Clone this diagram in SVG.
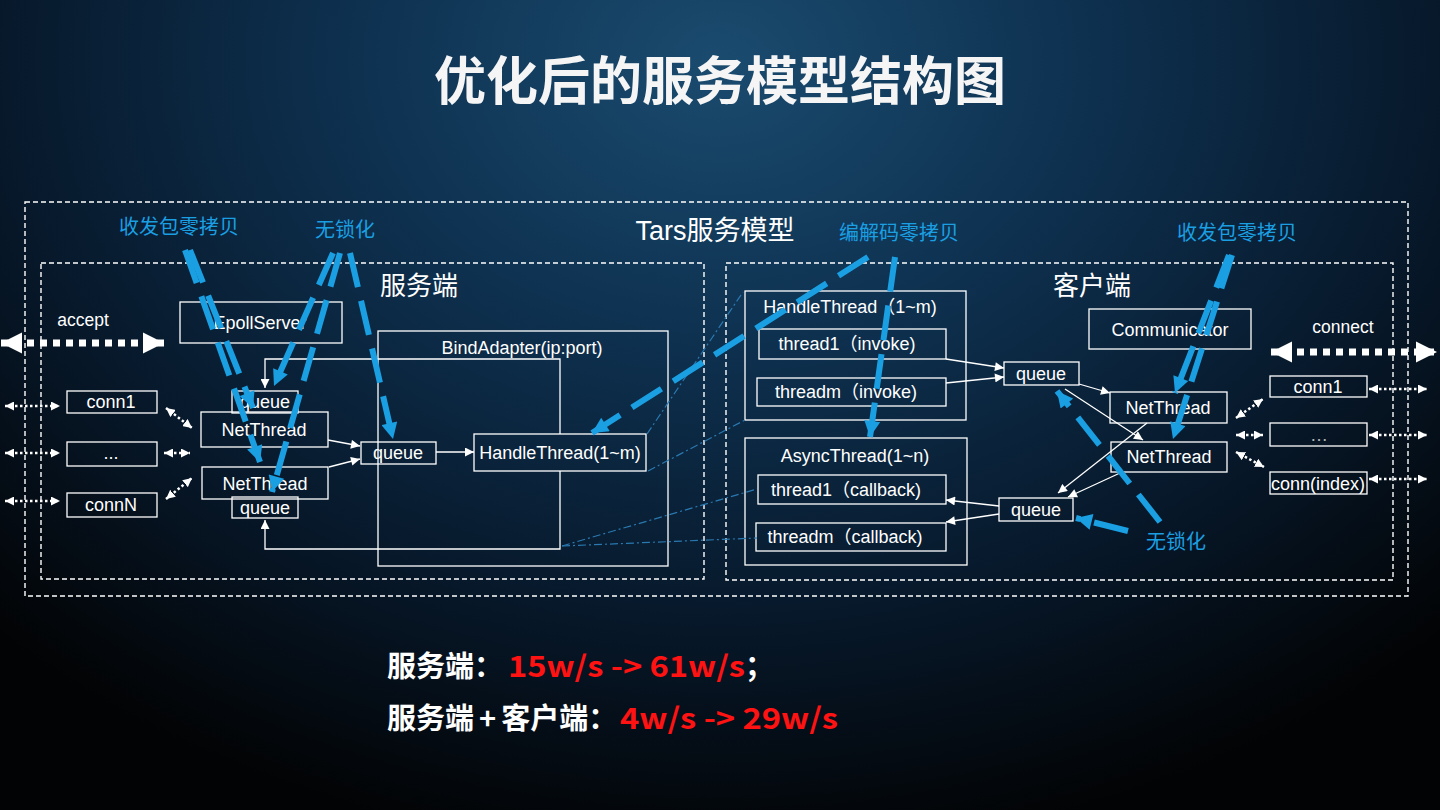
<svg xmlns="http://www.w3.org/2000/svg" width="1440" height="810" viewBox="0 0 1440 810">
<defs>
<radialGradient id="bg" gradientUnits="userSpaceOnUse" cx="720" cy="60" r="800" gradientTransform="translate(720 60) scale(1.3 1) translate(-720 -60)">
<stop offset="0" stop-color="#1a4b6f"/>
<stop offset="0.35" stop-color="#0e3150"/>
<stop offset="0.7" stop-color="#07182a"/>
<stop offset="1" stop-color="#020304"/>
</radialGradient>
<marker id="wa" markerUnits="userSpaceOnUse" viewBox="0 0 10 10" refX="10" refY="5" markerWidth="10" markerHeight="9" orient="auto"><path d="M0,0 L10,5 L0,10 z" fill="#fff"/></marker>
<marker id="da" markerUnits="userSpaceOnUse" viewBox="0 0 10 10" refX="10" refY="5" markerWidth="9" markerHeight="9" orient="auto-start-reverse"><path d="M0,0 L10,5 L0,10 z" fill="#fff"/></marker>
<marker id="ba" markerUnits="userSpaceOnUse" viewBox="0 0 10 10" refX="10" refY="5" markerWidth="21" markerHeight="22" orient="auto-start-reverse"><path d="M0,0 L10,5 L0,10 z" fill="#fff"/></marker>
<marker id="la" markerUnits="userSpaceOnUse" viewBox="0 0 10 10" refX="10" refY="5" markerWidth="17" markerHeight="16" orient="auto"><path d="M0,0 L10,5 L0,10 z" fill="#1a9fe2"/></marker>
<style>
.lbl{font-family:"Liberation Sans","Noto Sans CJK SC",sans-serif;font-size:18px;fill:#fff;text-anchor:middle}
.sm{font-size:17.5px}
.box{fill:none;stroke:#fff;stroke-width:1.3}
.dash{fill:none;stroke:#fff;stroke-width:1.4;stroke-dasharray:5 3}
.hd{font-family:"Liberation Sans","Noto Sans CJK SC",sans-serif;fill:#fff;text-anchor:middle}
.note{font-family:"Noto Sans CJK SC",sans-serif;font-size:20px;fill:#1a9fe2;text-anchor:middle}
.wl{fill:none;stroke:#fff;stroke-width:1.3;marker-end:url(#wa)}
.dl{fill:none;stroke:#fff;stroke-width:2.5;stroke-dasharray:2.5 2.5;marker-start:url(#da);marker-end:url(#da)}
.bl{fill:none;stroke:#fff;stroke-width:7;stroke-dasharray:7 6;marker-start:url(#ba);marker-end:url(#ba)}
.blue{fill:none;stroke:#1a9fe2;stroke-width:6;stroke-dasharray:35 14;marker-end:url(#la)}
.dd{fill:none;stroke:#2a78b0;stroke-width:1.2;stroke-dasharray:8 3 2 3}
.big{font-family:"Noto Sans CJK SC",sans-serif;font-weight:700}
.res{font-family:"Noto Sans CJK SC",sans-serif;font-weight:700;font-size:29px;fill:#fff}
.red{fill:#ff1212}
</style>
</defs>
<rect width="1440" height="810" fill="url(#bg)"/>

<text x="720" y="100" class="big" font-size="52" fill="#f5f5f5" text-anchor="middle">优化后的服务模型结构图</text>

<g id="frame">
<rect x="25" y="202" width="1383" height="394" class="dash"/>
<text x="715" y="240" class="hd" font-size="27">Tars服务模型</text>
</g>

<g id="server">
<rect x="41" y="263" width="663" height="316" class="dash"/>
<text x="419" y="295" class="hd" font-size="26">服务端</text>
</g>
<g id="client">
<rect x="726" y="263" width="667" height="317" class="dash"/>
<text x="1092" y="295" class="hd" font-size="26">客户端</text>
</g>

<g id="bindadapter">
<rect x="378" y="331" width="290" height="235" class="box"/>
<text x="522" y="354" class="lbl">BindAdapter(ip:port)</text>
</g>
<g id="epollserver"><rect x="180" y="302" width="162" height="41" class="box"/><text x="260" y="329" class="lbl">EpollServer</text></g>
<g id="accept"><text x="83" y="326" class="lbl sm">accept</text></g>
<g id="conn1-l"><rect x="67" y="391" width="90" height="22" class="box"/><text x="111" y="408" class="lbl">conn1</text></g>
<g id="dots-l"><rect x="67" y="442" width="90" height="24" class="box"/><text x="111" y="459" class="lbl">...</text></g>
<g id="connN"><rect x="67" y="493" width="90" height="24" class="box"/><text x="111" y="511" class="lbl">connN</text></g>
<g id="queue-top"><rect x="232" y="391" width="66" height="22" class="box"/><text x="265" y="408" class="lbl">queue</text></g>
<g id="netthread-s1"><rect x="201" y="412" width="127" height="35" class="box"/><text x="264" y="436" class="lbl">NetThread</text></g>
<g id="netthread-s2"><rect x="202" y="467" width="126" height="32" class="box"/><text x="265" y="490" class="lbl">NetThread</text></g>
<g id="queue-bottom"><rect x="232" y="497" width="66" height="21" class="box"/><text x="265" y="514" class="lbl">queue</text></g>
<g id="queue-mid"><rect x="361" y="442" width="75" height="22" class="box"/><text x="398" y="459" class="lbl">queue</text></g>
<g id="handlethread-s"><rect x="474" y="434" width="172" height="37" class="box"/><text x="560" y="459" class="lbl">HandleThread(1~m)</text></g>

<g id="handlethread-c">
<rect x="745" y="291" width="221" height="129" class="box"/>
<text x="850" y="313" class="lbl">HandleThread（1~m)</text>
</g>
<g id="thread1-invoke"><rect x="759" y="329" width="187" height="30" class="box"/><text x="847" y="350" class="lbl">thread1（invoke)</text></g>
<g id="threadm-invoke"><rect x="757" y="378" width="189" height="28" class="box"/><text x="846" y="398" class="lbl">threadm（invoke)</text></g>
<g id="asyncthread">
<rect x="745" y="438" width="222" height="127" class="box"/>
<text x="855" y="462" class="lbl">AsyncThread(1~n)</text>
</g>
<g id="thread1-callback"><rect x="758" y="475" width="188" height="29" class="box"/><text x="846" y="496" class="lbl">thread1（callback)</text></g>
<g id="threadm-callback"><rect x="756" y="523" width="190" height="28" class="box"/><text x="845" y="543" class="lbl">threadm（callback)</text></g>
<g id="queue-c1"><rect x="1004" y="362" width="75" height="23" class="box"/><text x="1041" y="380" class="lbl">queue</text></g>
<g id="queue-c2"><rect x="999" y="498" width="74" height="23" class="box"/><text x="1036" y="516" class="lbl">queue</text></g>
<g id="communicator"><rect x="1089" y="309" width="162" height="40" class="box"/><text x="1170" y="336" class="lbl">Communicator</text></g>
<g id="netthread-c1"><rect x="1110" y="392" width="117" height="31" class="box"/><text x="1168" y="414" class="lbl">NetThread</text></g>
<g id="netthread-c2"><rect x="1111" y="442" width="116" height="30" class="box"/><text x="1169" y="463" class="lbl">NetThread</text></g>
<g id="connect"><text x="1343" y="333" class="lbl sm">connect</text></g>
<g id="conn1-r"><rect x="1270" y="376" width="97" height="21" class="box"/><text x="1318" y="393" class="lbl">conn1</text></g>
<g id="dots-r"><rect x="1270" y="423" width="97" height="23" class="box"/><text x="1319" y="441" class="lbl" fill-opacity="0.7">…</text></g>
<g id="conn-index"><rect x="1270" y="472" width="97" height="22" class="box"/><text x="1318" y="490" class="lbl">conn(index)</text></g>

<g id="connectors">
<path class="bl" d="M1,343 L164,343"/>
<path class="bl" d="M1271,352 L1437,352"/>
<path class="dl" d="M5,406 L60,406"/>
<path class="dl" d="M5,453 L60,453"/>
<path class="dl" d="M5,501 L60,501"/>
<path class="dl" d="M166,408 L192,428"/>
<path class="dl" d="M164,453 L190,453"/>
<path class="dl" d="M166,499 L192,478"/>
<path class="dl" d="M1236,418 L1263,399"/>
<path class="dl" d="M1236,435 L1263,435"/>
<path class="dl" d="M1236,452 L1264,467"/>
<path class="dl" d="M1369,389 L1427,389"/>
<path class="dl" d="M1369,435 L1427,435"/>
<path class="dl" d="M1369,479 L1427,479"/>

<path class="wl" d="M328,440 L360,446"/>
<path class="wl" d="M329,467 L360,459"/>
<path class="wl" d="M436,452 L474,452"/>
<path class="wl" d="M560,434 L560,359 L265,359 L265,388"/>
<path class="wl" d="M560,471 L560,549 L265,549 L265,520"/>
<path class="wl" d="M946,359 L1004,368"/>
<path class="wl" d="M946,383 L1004,377"/>
<path class="wl" d="M999,506 L946,500"/>
<path class="wl" d="M999,514 L946,522"/>
<path class="wl" d="M1079,384 L1110,393"/>
<path class="wl" d="M1065,389 L1143,440"/>
<path class="wl" d="M1147,423 L1058,493"/>
<path class="wl" d="M1120,473 L1068,497"/>

<path class="dd" d="M647,434 L743,292"/>
<path class="dd" d="M648,471 L745,420"/>
<path class="dd" d="M562,546 L757,489"/>
<path class="dd" d="M562,546 L757,538"/>
</g>

<g id="annotations">
<text x="179" y="234" class="note">收发包零拷贝</text>
<text x="345" y="237" class="note">无锁化</text>
<text x="899" y="240" class="note">编解码零拷贝</text>
<text x="1237" y="240" class="note">收发包零拷贝</text>
<text x="1176" y="549" class="note">无锁化</text>
<path class="blue" d="M190,250 L253,408"/>
<path class="blue" d="M185,250 L260,462"/>
<path class="blue" d="M333,253 L274,386"/>
<path class="blue" d="M340,253 L272,492"/>
<path class="blue" d="M350,253 L393,439"/>
<path class="blue" d="M868,257 L592,433"/>
<path class="blue" d="M895,257 L870,437"/>
<path class="blue" d="M1229,255 L1175,393"/>
<path class="blue" d="M1232,255 L1173,439"/>
<path class="blue" d="M1160,522 L1057,391"/>
<path class="blue" d="M1128,531 L1076,518"/>
</g>

<g id="results">
<text x="387" y="677" class="res">服务端：</text>
<text x="508" y="677" class="res red" textLength="237" lengthAdjust="spacingAndGlyphs">15w/s -&gt; 61w/s</text>
<text x="745" y="677" class="res">；</text>
<text x="387" y="729" class="res">服务端<tspan dx="5">+</tspan><tspan dx="5">客户端：</tspan></text>
<text x="620" y="729" class="res red" textLength="218" lengthAdjust="spacingAndGlyphs">4w/s -&gt; 29w/s</text>
</g>
</svg>
